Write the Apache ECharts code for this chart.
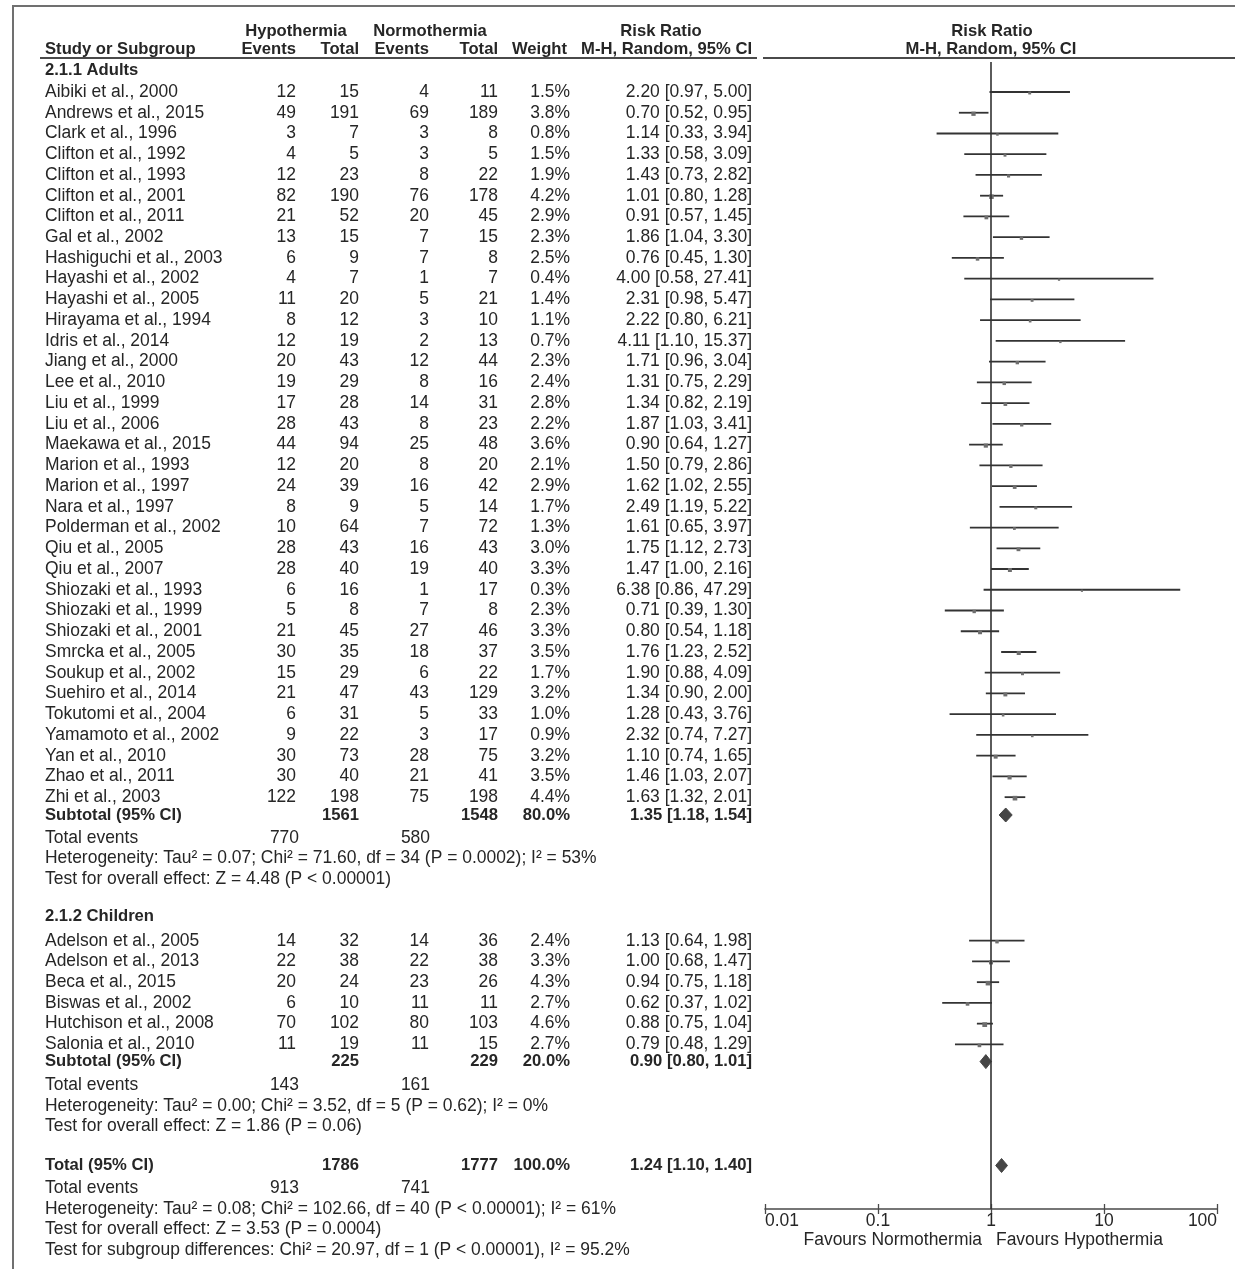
<!DOCTYPE html>
<html><head><meta charset="utf-8">
<script src="https://cdn.jsdelivr.net/npm/echarts@6/dist/echarts.min.js"></script>
<style>html,body{margin:0;padding:0;background:#fff}#c{width:1235px;height:1269px}</style>
</head><body><div id="c"></div>
<script>
// ---------------- DATA ----------------
const adultStudies = ["Aibiki et al., 2000","Andrews et al., 2015","Clark et al., 1996","Clifton et al., 1992","Clifton et al., 1993","Clifton et al., 2001","Clifton et al., 2011","Gal et al., 2002","Hashiguchi et al., 2003","Hayashi et al., 2002","Hayashi et al., 2005","Hirayama et al., 1994","Idris et al., 2014","Jiang et al., 2000","Lee et al., 2010","Liu et al., 1999","Liu et al., 2006","Maekawa et al., 2015","Marion et al., 1993","Marion et al., 1997","Nara et al., 1997","Polderman et al., 2002","Qiu et al., 2005","Qiu et al., 2007","Shiozaki et al., 1993","Shiozaki et al., 1999","Shiozaki et al., 2001","Smrcka et al., 2005","Soukup et al., 2002","Suehiro et al., 2014","Tokutomi et al., 2004","Yamamoto et al., 2002","Yan et al., 2010","Zhao et al., 2011","Zhi et al., 2003"];
const adultHypoEvents = [12,49,3,4,12,82,21,13,6,4,11,8,12,20,19,17,28,44,12,24,8,10,28,28,6,5,21,30,15,21,6,9,30,30,122];
const adultHypoTotal  = [15,191,7,5,23,190,52,15,9,7,20,12,19,43,29,28,43,94,20,39,9,64,43,40,16,8,45,35,29,47,31,22,73,40,198];
const adultNormEvents = [4,69,3,3,8,76,20,7,7,1,5,3,2,12,8,14,8,25,8,16,5,7,16,19,1,7,27,18,6,43,5,3,28,21,75];
const adultNormTotal  = [11,189,8,5,22,178,45,15,8,7,21,10,13,44,16,31,23,48,20,42,14,72,43,40,17,8,46,37,22,129,33,17,75,41,198];
const adultWeight     = [1.5,3.8,0.8,1.5,1.9,4.2,2.9,2.3,2.5,0.4,1.4,1.1,0.7,2.3,2.4,2.8,2.2,3.6,2.1,2.9,1.7,1.3,3.0,3.3,0.3,2.3,3.3,3.5,1.7,3.2,1.0,0.9,3.2,3.5,4.4];
const adultRR         = [2.20,0.70,1.14,1.33,1.43,1.01,0.91,1.86,0.76,4.00,2.31,2.22,4.11,1.71,1.31,1.34,1.87,0.90,1.50,1.62,2.49,1.61,1.75,1.47,6.38,0.71,0.80,1.76,1.90,1.34,1.28,2.32,1.10,1.46,1.63];
const adultLow        = [0.97,0.52,0.33,0.58,0.73,0.80,0.57,1.04,0.45,0.58,0.98,0.80,1.10,0.96,0.75,0.82,1.03,0.64,0.79,1.02,1.19,0.65,1.12,1.00,0.86,0.39,0.54,1.23,0.88,0.90,0.43,0.74,0.74,1.03,1.32];
const adultHigh       = [5.00,0.95,3.94,3.09,2.82,1.28,1.45,3.30,1.30,27.41,5.47,6.21,15.37,3.04,2.29,2.19,3.41,1.27,2.86,2.55,5.22,3.97,2.73,2.16,47.29,1.30,1.18,2.52,4.09,2.00,3.76,7.27,1.65,2.07,2.01];

const childStudies = ["Adelson et al., 2005","Adelson et al., 2013","Beca et al., 2015","Biswas et al., 2002","Hutchison et al., 2008","Salonia et al., 2010"];
const childHypoEvents = [14,22,20,6,70,11];
const childHypoTotal  = [32,38,24,10,102,19];
const childNormEvents = [14,22,23,11,80,11];
const childNormTotal  = [36,38,26,11,103,15];
const childWeight     = [2.4,3.3,4.3,2.7,4.6,2.7];
const childRR         = [1.13,1.00,0.94,0.62,0.88,0.79];
const childLow        = [0.64,0.68,0.75,0.37,0.75,0.48];
const childHigh       = [1.98,1.47,1.18,1.02,1.04,1.29];

// pooled rows: [adults, children, overall]
const pooledLabels    = ["Subtotal (95% CI)","Subtotal (95% CI)","Total (95% CI)"];
const pooledHypoTotal = [1561,225,1786];
const pooledNormTotal = [1548,229,1777];
const pooledWeight    = [80.0,20.0,100.0];
const pooledRR        = [1.35,0.90,1.24];
const pooledLow       = [1.18,0.80,1.10];
const pooledHigh      = [1.54,1.01,1.40];
const pooledHypoEvents= [770,143,913];
const pooledNormEvents= [580,161,741];
const pooledHet = [
  "Heterogeneity: Tau\u00b2 = 0.07; Chi\u00b2 = 71.60, df = 34 (P = 0.0002); I\u00b2 = 53%",
  "Heterogeneity: Tau\u00b2 = 0.00; Chi\u00b2 = 3.52, df = 5 (P = 0.62); I\u00b2 = 0%",
  "Heterogeneity: Tau\u00b2 = 0.08; Chi\u00b2 = 102.66, df = 40 (P < 0.00001); I\u00b2 = 61%"
];
const pooledTest = [
  "Test for overall effect: Z = 4.48 (P < 0.00001)",
  "Test for overall effect: Z = 1.86 (P = 0.06)",
  "Test for overall effect: Z = 3.53 (P = 0.0004)"
];
const subgroupDiff = "Test for subgroup differences: Chi\u00b2 = 20.97, df = 1 (P < 0.00001), I\u00b2 = 95.2%";
const groupLabels = ["2.1.1 Adults","2.1.2 Children"];
const axisTicks = [0.01,0.1,1,10,100];
const favourLeft = "Favours Normothermia", favourRight = "Favours Hypothermia";

// ---------------- LAYOUT ----------------
const W = 1235, H = 1269, ROW = 20.74, Y0 = 92;
const rowOfPx = px => (px - Y0) / ROW;
const FONT = "'Liberation Sans', Arial, sans-serif", TXT = '#262626';
// calibrate font sizes so that text widths match the reference layout
const mctx = document.createElement('canvas').getContext('2d');
const widthAt = (s, bold) => { mctx.font = (bold ? 'bold ' : '') + '100px ' + FONT; return mctx.measureText(s).width / 100; };
const FS = +(552 / widthAt(pooledHet[0], false)).toFixed(2);
const FSB = +(((174 / widthAt('M-H, Random, 95% CI', true)) + (148 / widthAt('Study or Subgroup', true))) / 2).toFixed(2);
const COL = {name:45, he:296, ht:359, ne:429, nt:498, w:570, rr:752};

const L = {hdr1:-2.94, hdr2:-2.07, rule:-1.64, g1:-1.06};
L.g1Studies = adultStudies.map((_, i) => i);
L.g1Sub = L.g1Studies[L.g1Studies.length-1] + 0.86;
L.g1Ev = L.g1Sub + 1.1; L.g1Het = L.g1Ev + 0.97; L.g1Test = L.g1Het + 1.03;
L.g2 = L.g1Test + 1.8;
L.g2Studies = childStudies.map((_, i) => L.g2 + 1.16 + i);
L.g2Sub = L.g2Studies[L.g2Studies.length-1] + 0.83;
L.g2Ev = L.g2Sub + 1.16; L.g2Het = L.g2Ev + 1.0; L.g2Test = L.g2Het + 0.97;
L.tot = L.g2Test + 1.88; L.totEv = L.tot + 1.1; L.totHet = L.totEv + 1.0; L.totTest = L.totHet + 0.97; L.diff = L.totTest + 1.01;

const fmtRR = (r, l, h) => r.toFixed(2) + ' [' + l.toFixed(2) + ', ' + h.toFixed(2) + ']';
const texts = [];
const T = (x, y, t, align, bold) => texts.push({x, y, t: String(t), align, bold: !!bold});

// headers
T(COL.he, L.hdr1, 'Hypothermia', 'center', 1);
T(COL.ne + 1, L.hdr1, 'Normothermia', 'center', 1);
T(661, L.hdr1, 'Risk Ratio', 'center', 1);
T(992, L.hdr1, 'Risk Ratio', 'center', 1);
T(COL.name, L.hdr2, 'Study or Subgroup', 'left', 1);
T(COL.he, L.hdr2, 'Events', 'right', 1);
T(COL.ht, L.hdr2, 'Total', 'right', 1);
T(COL.ne, L.hdr2, 'Events', 'right', 1);
T(COL.nt, L.hdr2, 'Total', 'right', 1);
T(COL.w - 3, L.hdr2, 'Weight', 'right', 1);
T(COL.rr, L.hdr2, 'M-H, Random, 95% CI', 'right', 1);
T(991, L.hdr2, 'M-H, Random, 95% CI', 'center', 1);

function studyRows(names, he, ht, ne, nt, w, rr, lo, hi, ys) {
  names.forEach((n, i) => {
    const y = ys[i];
    T(COL.name, y, n, 'left');
    T(COL.he, y, he[i], 'right'); T(COL.ht, y, ht[i], 'right');
    T(COL.ne, y, ne[i], 'right'); T(COL.nt, y, nt[i], 'right');
    T(COL.w, y, w[i].toFixed(1) + '%', 'right');
    T(COL.rr, y, fmtRR(rr[i], lo[i], hi[i]), 'right');
  });
}
function pooledRows(k, ySub, yEv, yHet, yTest) {
  T(COL.name, ySub, pooledLabels[k], 'left', 1);
  T(COL.ht, ySub, pooledHypoTotal[k], 'right', 1);
  T(COL.nt, ySub, pooledNormTotal[k], 'right', 1);
  T(COL.w, ySub, pooledWeight[k].toFixed(1) + '%', 'right', 1);
  T(COL.rr, ySub, fmtRR(pooledRR[k], pooledLow[k], pooledHigh[k]), 'right', 1);
  T(COL.name, yEv, 'Total events', 'left');
  T(COL.he + 3, yEv, pooledHypoEvents[k], 'right');
  T(COL.ne + 1, yEv, pooledNormEvents[k], 'right');
  T(COL.name, yHet, pooledHet[k], 'left');
  T(COL.name, yTest, pooledTest[k], 'left');
}
T(COL.name, L.g1, groupLabels[0], 'left', 1);
studyRows(adultStudies, adultHypoEvents, adultHypoTotal, adultNormEvents, adultNormTotal, adultWeight, adultRR, adultLow, adultHigh, L.g1Studies);
pooledRows(0, L.g1Sub, L.g1Ev, L.g1Het, L.g1Test);
T(COL.name, L.g2, groupLabels[1], 'left', 1);
studyRows(childStudies, childHypoEvents, childHypoTotal, childNormEvents, childNormTotal, childWeight, childRR, childLow, childHigh, L.g2Studies);
pooledRows(1, L.g2Sub, L.g2Ev, L.g2Het, L.g2Test);
pooledRows(2, L.tot, L.totEv, L.totHet, L.totTest);
T(COL.name, L.diff, subgroupDiff, 'left');

// decoration rules: [x1, y1, x2, y2, width, colour]
const rules = [
  [40, L.rule, 757, L.rule, 2, '#4a4a4a'],
  [763, L.rule, W, L.rule, 2, '#4a4a4a'],
  [12, rowOfPx(6), W, rowOfPx(6), 2, '#707070'],
  [13, rowOfPx(6), 13, rowOfPx(H), 2, '#707070']
];

const ciData = [];
adultStudies.forEach((_, i) => ciData.push([adultLow[i], adultHigh[i], adultRR[i], L.g1Studies[i], adultWeight[i]]));
childStudies.forEach((_, i) => ciData.push([childLow[i], childHigh[i], childRR[i], L.g2Studies[i], childWeight[i]]));
const diaY = [L.g1Sub, L.g2Sub, L.tot];
const diamondData = pooledRR.map((r, k) => [pooledLow[k], pooledHigh[k], r, diaY[k]]);

// grids
const tY = [rowOfPx(0), rowOfPx(H)];
const fGrid = {left: 765, right: W - 1217, top: 62, bottom: H - 1209};
const fY = [rowOfPx(fGrid.top), rowOfPx(H - fGrid.bottom)];

const chart = echarts.init(document.getElementById('c'), null, {renderer: 'canvas'});
const fmtTick = v => String(+(+v).toPrecision(3));
chart.setOption({
  animation: false,
  backgroundColor: '#fff',
  grid: [
    {show: false, left: 0, top: 0, right: 0, bottom: 0},
    Object.assign({show: false}, fGrid)
  ],
  xAxis: [
    {type: 'value', gridIndex: 0, min: 0, max: W, show: false},
    {type: 'log', logBase: 10, gridIndex: 1, min: axisTicks[0], max: axisTicks[axisTicks.length-1], position: 'bottom',
     axisLine: {show: true, onZero: false, lineStyle: {color: '#4a4a4a', width: 1.6}},
     axisTick: {show: true, length: 5, lineStyle: {color: '#4a4a4a', width: 1.3}},
     splitLine: {show: false},
     axisLabel: {show: true, margin: 4, fontFamily: FONT, fontSize: FS, color: TXT, formatter: fmtTick, alignMinLabel: 'left', alignMaxLabel: 'right'}},
    {type: 'log', logBase: 10, gridIndex: 1, min: axisTicks[0], max: axisTicks[axisTicks.length-1], position: 'bottom',
     axisLine: {show: false, onZero: false}, axisTick: {show: true, inside: true, length: 5, lineStyle: {color: '#4a4a4a', width: 1.3}},
     splitLine: {show: false}, axisLabel: {show: false}}
  ],
  yAxis: [
    {type: 'value', gridIndex: 0, inverse: true, min: tY[0], max: tY[1], show: false},
    {type: 'value', gridIndex: 1, inverse: true, min: fY[0], max: fY[1], show: false}
  ],
  series: [
    {type: 'custom', name: 'table', xAxisIndex: 0, yAxisIndex: 0, silent: true,
     data: texts.map((d, i) => [d.x, d.y, i]),
     renderItem: (params, api) => {
       const d = texts[params.dataIndex];
       const p = api.coord([d.x, d.y]);
       return {type: 'text', x: p[0], y: p[1], style: {text: d.t, align: d.align, verticalAlign: 'middle',
         font: (d.bold ? 'bold ' + FSB : FS) + 'px ' + FONT, fill: TXT}};
     }},
    {type: 'custom', name: 'rules', xAxisIndex: 0, yAxisIndex: 0, silent: true,
     data: rules.map(r => r.slice(0, 4)),
     renderItem: (params, api) => {
       const r = rules[params.dataIndex];
       const a = api.coord([r[0], r[1]]), b = api.coord([r[2], r[3]]);
       return {type: 'line', shape: {x1: a[0], y1: a[1], x2: b[0], y2: b[1]}, style: {stroke: r[5], lineWidth: r[4]}};
     }},
    {type: 'line', name: 'null', xAxisIndex: 1, yAxisIndex: 1, silent: true, symbol: 'none',
     data: [[1, fY[0]], [1, fY[1]]], lineStyle: {color: '#333', width: 1.6}},
    {type: 'custom', name: 'ci', xAxisIndex: 1, yAxisIndex: 1, silent: true,
     data: ciData,
     renderItem: (params, api) => {
       const y = api.value(3);
       const a = api.coord([api.value(0), y]), b = api.coord([api.value(1), y]), c = api.coord([api.value(2), y]);
       const s = 2 + api.value(4) * 0.6;
       return {type: 'group', children: [
         {type: 'line', shape: {x1: a[0], y1: a[1], x2: b[0], y2: b[1]}, style: {stroke: '#333', lineWidth: 1.8}},
         {type: 'rect', shape: {x: c[0] - s/2, y: c[1] - s/2 + 1, width: s, height: s}, style: {fill: '#6e6e6e'}}
       ]};
     }},
    {type: 'custom', name: 'diamonds', xAxisIndex: 1, yAxisIndex: 1, silent: true,
     data: diamondData,
     renderItem: (params, api) => {
       const y = api.value(3);
       const a = api.coord([api.value(0), y]), b = api.coord([api.value(1), y]), c = api.coord([api.value(2), y]);
       const h = 7;
       return {type: 'polygon', shape: {points: [[a[0], a[1]], [c[0], c[1] - h], [b[0], b[1]], [c[0], c[1] + h]]},
         style: {fill: '#454545', stroke: '#454545', lineWidth: 1}};
     }},
    {type: 'custom', name: 'favours', xAxisIndex: 1, yAxisIndex: 1, silent: true,
     data: [[1, fY[1] + 31 / ROW, 0], [1, fY[1] + 31 / ROW, 1]],
     renderItem: (params, api) => {
       const p = api.coord([api.value(0), api.value(1)]);
       const left = api.value(2) === 0;
       return {type: 'text', x: p[0] + (left ? -9 : 5), y: p[1], style: {text: left ? favourLeft : favourRight,
         align: left ? 'right' : 'left', verticalAlign: 'middle', font: FS + 'px ' + FONT, fill: TXT}};
     }}
  ]
});
</script></body></html>
